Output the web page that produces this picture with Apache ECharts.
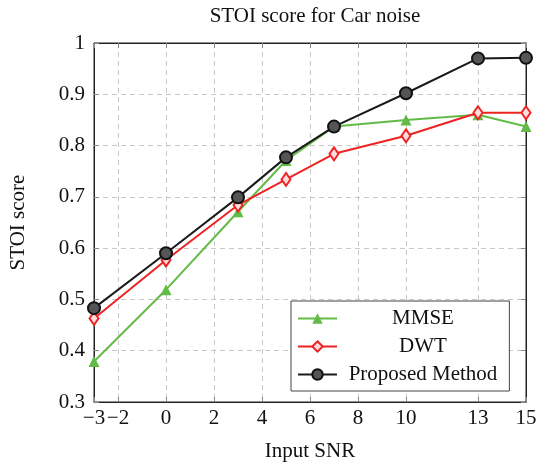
<!DOCTYPE html>
<html><head><meta charset="utf-8">
<script src="https://cdn.jsdelivr.net/npm/echarts@6/dist/echarts.min.js"></script>
<style>html,body{margin:0;padding:0;background:#fff}#c{width:536px;height:468px}</style>
</head><body><div id="c"></div>
<script>
const snr = [-3, 0, 3, 5, 7, 10, 13, 15];
const mmse = [0.379, 0.519, 0.671, 0.771, 0.837, 0.850, 0.860, 0.837];
const dwt = [0.463, 0.577, 0.684, 0.734, 0.784, 0.819, 0.864, 0.864];
const proposed = [0.483, 0.590, 0.699, 0.777, 0.837, 0.902, 0.970, 0.971];
const xTicks = [-3, -2, 0, 2, 4, 6, 8, 10, 13, 15];
const FONT = '"Liberation Serif", "DejaVu Serif", serif';
const FS = 21;
const pairs = a => snr.map((x, i) => [x, a[i]]);
const fmtMinus = v => String(v).replace('-', '\u2212');
const chart = echarts.init(document.getElementById('c'));
const gridLine = {show: true, lineStyle: {color: '#c8c8c8', type: [5, 4], width: 1}};
chart.setOption({
  animation: false,
  title: {text: 'STOI score for Car noise', left: 310, top: 1, textAlign: 'center',
    textStyle: {fontFamily: FONT, fontSize: FS, fontWeight: 'normal', color: '#111'}},
  grid: {left: 94, right: 10, top: 43, bottom: 66, show: true, borderColor: '#222', borderWidth: 1,
    containLabel: false, outerBoundsMode: 'none'},
  legend: {orient: 'vertical', left: 291, top: 301, padding: [7, 12, 6, 6],
    itemGap: 7, itemWidth: 39, itemHeight: 13, borderColor: '#444', borderWidth: 1, backgroundColor: '#fff',
    formatter: n => '{a|' + n + '}',
    textStyle: {fontFamily: FONT, fontSize: FS, color: '#111', rich: {a: {width: 162, align: 'center', fontFamily: FONT, fontSize: FS}}},
    data: ['MMSE', 'DWT', 'Proposed Method']},
  xAxis: [{type: 'value', min: -3, max: 15, position: 'bottom',
    name: 'Input SNR', nameLocation: 'middle', nameGap: 39,
    nameTextStyle: {fontFamily: FONT, fontSize: FS, color: '#111'},
    axisLine: {show: true, onZero: false, lineStyle: {color: '#222'}},
    axisTick: {show: true, inside: true, length: 5, customValues: xTicks, lineStyle: {color: '#888'}},
    axisLabel: {customValues: xTicks, formatter: fmtMinus, fontFamily: FONT, fontSize: FS, color: '#111', margin: 6},
    splitLine: gridLine},
   {type: 'value', min: -3, max: 15, position: 'top',
    axisLine: {show: true, onZero: false, lineStyle: {color: '#222'}},
    axisTick: {show: true, inside: true, length: 5, customValues: xTicks, lineStyle: {color: '#888'}},
    axisLabel: {show: false}, splitLine: {show: false}}],
  yAxis: [{type: 'value', min: 0.3, max: 1, interval: 0.1,
    name: 'STOI score', nameLocation: 'middle', nameGap: 65, nameRotate: 90,
    nameTextStyle: {fontFamily: FONT, fontSize: FS, color: '#111'},
    axisLine: {show: true, onZero: false, lineStyle: {color: '#222'}},
    axisTick: {show: true, inside: true, length: 5, lineStyle: {color: '#888'}},
    axisLabel: {formatter: v => String(Math.round(v * 10) / 10), fontFamily: FONT, fontSize: FS, color: '#111', margin: 9},
    splitLine: gridLine},
   {type: 'value', min: 0.3, max: 1, interval: 0.1, position: 'right',
    axisLine: {show: true, onZero: false, lineStyle: {color: '#222'}},
    axisTick: {show: true, inside: true, length: 5, lineStyle: {color: '#888'}},
    axisLabel: {show: false}, splitLine: {show: false}}],
  series: [
    {name: 'MMSE', type: 'line', data: pairs(mmse), symbol: 'triangle', symbolSize: 11,
      lineStyle: {color: '#62bb46', width: 2}, itemStyle: {color: '#62bb46'}, z: 2},
    {name: 'DWT', type: 'line', data: pairs(dwt), symbol: 'diamond', symbolSize: [9, 13],
      lineStyle: {color: '#ee2222', width: 2}, itemStyle: {color: '#ffdddd', borderColor: '#ee2222', borderWidth: 2}, z: 3},
    {name: 'Proposed Method', type: 'line', data: pairs(proposed), symbol: 'circle', symbolSize: 12,
      lineStyle: {color: '#1a1a1a', width: 2}, itemStyle: {color: '#555', borderColor: '#111', borderWidth: 2}, z: 4}
  ]
});
</script></body></html>
